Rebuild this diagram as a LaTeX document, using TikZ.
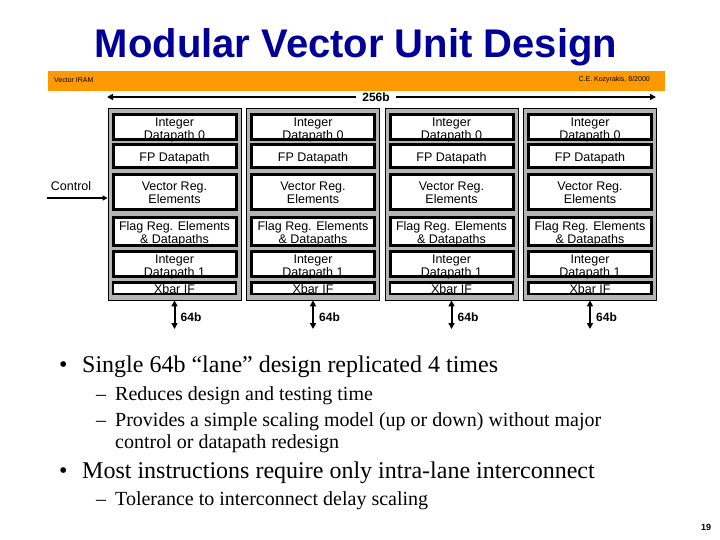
\documentclass[tikz,border=0pt]{standalone}
\usepackage{fontspec}
\setmainfont{Liberation Serif}
\setsansfont{Liberation Sans}
\usetikzlibrary{arrows.meta}
\definecolor{titleblue}{HTML}{000099}
\definecolor{barorange}{HTML}{FF9900}
\definecolor{lanegray}{HTML}{B4B4B4}
\begin{document}
\begin{tikzpicture}[x=1pt,y=-1pt,
  lane/.style={draw=black, line width=0.8pt, fill=lanegray, minimum width=133pt, minimum height=192pt, inner sep=0pt},
  unit/.style={draw=black, line width=3pt, fill=white, inner sep=0pt, minimum width=123pt},
  utext/.style={inner sep=0pt, align=center, font=\sffamily\fontsize{12.5}{11.5}\selectfont},
  dbl/.style={{Triangle[length=6pt,width=6pt]}-{Triangle[length=6pt,width=6pt]}, line width=2pt},
  bul/.style={anchor=base west, inner sep=0pt, font=\fontsize{24}{28}\selectfont},
  subbul/.style={anchor=base west, inner sep=0pt, font=\fontsize{20}{24}\selectfont},
  lbl/.style={font=\sffamily\bfseries\fontsize{12}{14}\selectfont}
]
\useasboundingbox (0,0) rectangle (720,540);

% title
\node[font=\sffamily\bfseries\fontsize{40}{48}\selectfont, text=titleblue, anchor=base, inner sep=0pt] (title) at (356,58) {Modular Vector Unit Design};

% orange bar
\node[fill=barorange, minimum width=617pt, minimum height=20pt, inner sep=0pt] (bar) at (356.5,81) {};
\node[anchor=west, font=\sffamily\fontsize{7}{8}\selectfont, inner sep=0pt] (vi) at (54,80) {Vector IRAM};
\node[anchor=east, font=\sffamily\fontsize{7}{8}\selectfont, inner sep=0pt] (ck) at (650,80) {C.E. Kozyrakis, 8/2000};

% 256b arrow
\coordinate (wl) at (107,97);
\coordinate (wr) at (656,97);
\draw[dbl] (wl) -- (wr);
\node[lbl, fill=white, inner xsep=6pt, inner ysep=1pt] (w256) at (376,97) {256b};

% lanes
\foreach \i/\cx in {1/174.5, 2/313, 3/451.5, 4/590} {
  \node[lane] (lane\i) at (\cx,204) {};
  \node[unit, minimum height=25pt] (ia\i) at (\cx,127) {};
  \node[utext] (iat\i) at ([yshift=-3pt]ia\i.center) {Integer\\Datapath 0};
  \node[unit, minimum height=23pt] (fp\i) at (\cx,156.5) {};
  \node[utext] (fpt\i) at ([yshift=-1.5pt]fp\i.center) {FP Datapath};
  \node[unit, minimum height=35pt] (vr\i) at (\cx,192) {};
  \node[utext] (vrt\i) at ([yshift=-1pt]vr\i.center) {Vector Reg.\\Elements};
  \node[unit, minimum height=28pt] (fl\i) at (\cx,231.5) {};
  \node[utext] (flt\i) at ([yshift=-2pt]fl\i.center) {Flag Reg. Elements\\\& Datapaths};
  \node[unit, minimum height=25pt] (ib\i) at (\cx,264) {};
  \node[utext] (ibt\i) at ([yshift=-3pt]ib\i.center) {Integer\\Datapath 1};
  \node[unit, line width=2.5pt, minimum height=11.5pt] (xb\i) at (\cx,288) {};
  \node[utext] (xbt\i) at ([yshift=-1.5pt]xb\i.center) {Xbar IF};
  \coordinate (bot\i) at (\cx,329);
  \draw[dbl] (lane\i.south) -- (bot\i);
  \node[lbl, anchor=west, inner sep=0pt] (w64\i) at (\cx+6,317) {64b};
}

% control
\node[font=\sffamily\fontsize{12.5}{14}\selectfont, inner sep=0pt] (ctl) at (71,186) {Control};
\coordinate (cs) at (47,198);
\draw[line width=1.5pt, -{Triangle[length=5pt,width=5pt]}] (cs) -- (cs -| lane1.west);

% bullets
\node[bul] (d1) at (59,372) {•};
\node[bul] (t1) at (82,372) {Single 64b “lane” design replicated 4 times};
\node[subbul] (d2) at (96,400) {–};
\node[subbul] (t2) at (115,400) {Reduces design and testing time};
\node[subbul] (d3) at (96,426) {–};
\node[subbul] (t3) at (115,426) {Provides a simple scaling model (up or down) without major};
\node[subbul] (t3b) at (115,448) {control or datapath redesign};
\node[bul] (d4) at (59,478) {•};
\node[bul] (t4) at (82,478) {Most instructions require only intra-lane interconnect};
\node[subbul] (d5) at (96,505) {–};
\node[subbul] (t5) at (115,505) {Tolerance to interconnect delay scaling};

% page number
\node[font=\sffamily\bfseries\fontsize{9}{10}\selectfont, inner sep=0pt] (pg) at (706,527) {19};
\end{tikzpicture}
\end{document}
